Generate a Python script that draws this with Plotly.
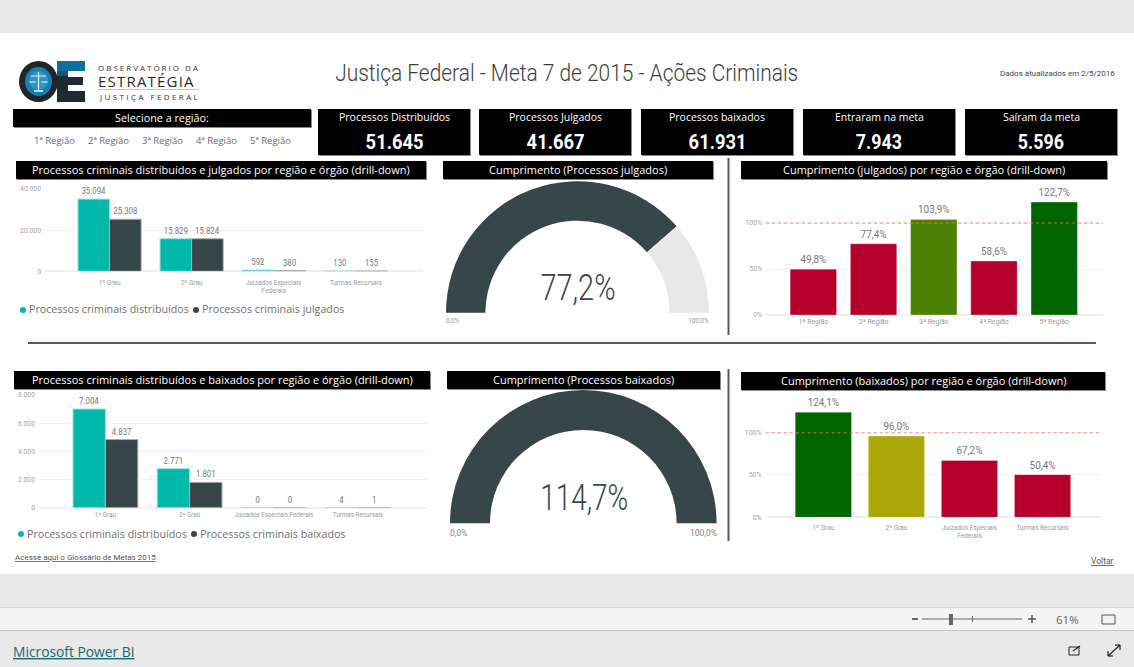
import json
import plotly.graph_objects as go

W, H = 1134, 667

# ---------- data ----------
orgaos = ["1º Grau", "2º Grau", "Juizados Especiais<br>Federais", "Turmas Recursais"]
orgaos_b = ["1º Grau", "2º Grau", "Juizados Especiais Federais", "Turmas Recursais"]
regioes = ["1ª Região", "2ª Região", "3ª Região", "4ª Região", "5ª Região"]
distribuidos_j = [35094, 15829, 592, 130]
julgados = [25308, 15824, 380, 155]
distribuidos_b = [7004, 2771, 0, 4]
baixados = [4837, 1801, 0, 1]
cumpr_julgados = [49.8, 77.4, 103.9, 58.6, 122.7]
cumpr_baixados = [124.1, 96.0, 67.2, 50.4]
cores_julgados = ["#b5002b", "#b5002b", "#4b8204", "#b5002b", "#006400"]
cores_baixados = ["#006400", "#aba808", "#b5002b", "#b5002b"]
gauge_julgados = 77.2
gauge_baixados = 114.7
gauge_max = 100
kpi_nomes = ["Processos Distribuídos", "Processos Julgados", "Processos baixados", "Entraram na meta", "Saíram da meta"]
kpi_valores = ["51.645", "41.667", "61.931", "7.943", "5.596"]
titulo = "Justiça Federal - Meta 7 de 2015 - Ações Criminais"
atualizado = "Dados atualizados em 2/5/2016"

TEAL, DARK = "#01b8aa", "#374649"
DIN = "Roboto, sans-serif"
UI = "Open Sans, sans-serif"

def fx(x): return x / W
def fy(y): return 1 - y / H

shapes, annots = [], []

def rect(x0, y0, x1, y1, color, layer="below"):
    shapes.append(dict(type="rect", xref="paper", yref="paper", x0=fx(x0), x1=fx(x1), y0=fy(y1), y1=fy(y0),
                       fillcolor=color, line=dict(width=0), layer=layer))

def circle(x0, y0, x1, y1, color, layer="below"):
    shapes.append(dict(type="circle", xref="paper", yref="paper", x0=fx(x0), x1=fx(x1), y0=fy(y1), y1=fy(y0),
                       fillcolor=color, line=dict(width=0), layer=layer))

def line(x0, y0, x1, y1, color, w=1, layer="below"):
    shapes.append(dict(type="line", xref="paper", yref="paper", x0=fx(x0), x1=fx(x1), y0=fy(y0), y1=fy(y1),
                       line=dict(color=color, width=w), layer=layer))

def label(x, y, text, size, color="#666666", anchor="center", family=UI, under=False, weight=None):
    font = dict(size=size, color=color, family=family)
    if under: font["lineposition"] = "under"
    if weight: font["weight"] = weight
    annots.append(dict(xref="paper", yref="paper", x=fx(x), y=fy(y), text=text, showarrow=False, xanchor=anchor,
                       yanchor="middle", font=font, borderpad=0, borderwidth=0))

def banner(x0, y0, x1, y1, text, size=11):
    rect(x0 + 1, y0 + 1, x1 + 1, y1 + 1, "#8a8a8a")
    rect(x0, y0, x1, y1, "#000000")
    label((x0 + x1) / 2, (y0 + y1) / 2 - 0.5, text, size, "#ffffff")

# ---------- page bands ----------
rect(0, 33, W, 574, "#ffffff")
rect(0, 608, W, 630, "#f4f4f4")
line(0, 607.5, W, 607.5, "#dcdcdc")
line(0, 630.5, W, 630.5, "#c8c8c8")

# ---------- logo ----------
circle(19, 61, 58, 102, "#20262a")
circle(25, 67, 52, 96, "#1a7fb0")
circle(29, 71, 48, 90, "#2b95c4")
line(38.5, 72, 38.5, 90, "#dff0f7", 1.2)
line(31, 76, 46, 76, "#dff0f7", 1)
line(34, 91, 43, 91, "#dff0f7", 1.6)
for cx in (32.5, 44.5):
    line(cx - 3, 82, cx + 3, 82, "#dff0f7", 1.2)
rect(57, 61, 68, 102, "#1d2a30")
rect(57, 61, 68, 76, "#14577a")
rect(57, 61, 85, 71, "#0f6f9e")
rect(57, 77, 83, 85, "#1d2a30")
rect(57, 91, 85, 102, "#1d2a30")
label(149, 67.5, "OBSERVATÓRIO DA", 8, "#333333")
label(146, 81, "ESTRATÉGIA", 15, "#2b2b2b")
line(98, 89.5, 199, 89.5, "#c4c4c4")
label(149, 96.5, "JUSTIÇA FEDERAL", 8, "#333333")

# ---------- header ----------
label(566.5, 73, titulo, 24, "#3d3d3d", family=DIN, weight=300)
label(1115, 73.5, atualizado, 8, "#444444", anchor="right", family=DIN)

# ---------- selector ----------
banner(13, 109, 311, 127, "Selecione a região:", 10.8)
for cx, r in zip([54, 108, 162, 216, 270], regioes):
    label(cx, 140.5, r, 9.5, "#6b6b6b")

# ---------- KPI cards ----------
for x0, nome, valor in zip([318, 479, 641, 803, 965], kpi_nomes, kpi_valores):
    x1 = x0 + 152
    rect(x0 + 1, 109, x1 + 1, 156, "#8a8a8a")
    rect(x0, 109, x1, 155, "#000000")
    label((x0 + x1) / 2, 117, nome, 10.5, "#ffffff")
    label((x0 + x1) / 2, 142, valor, 20, "#ffffff", family=DIN, weight="bold")

# ---------- section banners ----------
banner(16, 161, 426, 179, "Processos criminais distribuídos e julgados por região e órgão (drill-down)")
banner(443, 161, 713, 179, "Cumprimento (Processos julgados)")
banner(741, 161, 1107, 179, "Cumprimento (julgados) por região e órgão (drill-down)")
banner(14, 371, 430, 389, "Processos criminais distribuídos e baixados por região e órgão (drill-down)")
banner(447, 371, 720, 389, "Cumprimento (Processos baixados)")
banner(741, 372, 1105, 390, "Cumprimento (baixados) por região e órgão (drill-down)")

# ---------- dividers ----------
line(728.5, 158, 728.5, 335, "#4f5d5f", 2)
line(728.5, 369, 728.5, 541, "#4f5d5f", 2)
line(28, 343, 1096, 343, "#4f5d5f", 2)

# ---------- legends ----------
def legend(y, x_a, x_b, a, b, size):
    circle(x_a, y - 3, x_a + 6, y + 3, TEAL)
    label(x_a + 8.5, y - 0.5, a, size, "#6f6f6f", anchor="left")
    circle(x_b, y - 3, x_b + 6, y + 3, DARK)
    label(x_b + 8.5, y - 0.5, b, size, "#6f6f6f", anchor="left")

legend(310, 20, 193, "Processos criminais distribuídos", "Processos criminais julgados", 10.7)
legend(534, 18, 191, "Processos criminais distribuídos", "Processos criminais baixados", 10.7)

# ---------- links ----------
label(15, 557, "Acesse aqui o Glossário de Metas 2015", 8, "#555555", anchor="left", family=DIN, under=True)
label(1114, 561, "Voltar", 8.5, "#555555", anchor="right", family=DIN, under=True)
label(13, 651, "Microsoft Power BI", 13.8, "#17686b", anchor="left", under=True)

# ---------- footer controls ----------
line(912, 619, 918, 619, "#666666", 2)
line(922, 619, 1022, 619, "#666666", 1)
rect(949, 614, 953, 625, "#666666")
line(972.5, 616, 972.5, 622, "#666666", 1)
line(1028, 619, 1036, 619, "#555555", 1.5)
line(1032, 615, 1032, 623, "#555555", 1.5)
label(1067, 619, "61%", 11.5, "#666666")
shapes.append(dict(type="rect", xref="paper", yref="paper", x0=fx(1102), x1=fx(1115), y0=fy(624), y1=fy(615),
                   fillcolor="rgba(0,0,0,0)", line=dict(color="#555555", width=1)))
# share icon
shapes.append(dict(type="rect", xref="paper", yref="paper", x0=fx(1069), x1=fx(1079), y0=fy(655), y1=fy(647),
                   fillcolor="rgba(0,0,0,0)", line=dict(color="#222222", width=1)))
line(1073, 651, 1080, 646, "#222222", 1.2)
# expand icon
line(1108, 656, 1120, 645, "#222222", 1.2)
line(1108, 656, 1108, 651, "#222222", 1.2)
line(1108, 656, 1113, 656, "#222222", 1.2)
line(1120, 645, 1115, 645, "#222222", 1.2)
line(1120, 645, 1120, 650, "#222222", 1.2)

# ---------- figure ----------
fig = go.Figure()
layout_axes = {}

def add_axes(n, px_left, px_right, px_top, px_bottom, xr, yr, dtick, tick_x, tick_y, standoff_x, tickfmt=None, suffix=""):
    xn = f"xaxis{n}" if n > 1 else "xaxis"
    yn = f"yaxis{n}" if n > 1 else "yaxis"
    ya = f"y{n}" if n > 1 else "y"
    xa = f"x{n}" if n > 1 else "x"
    layout_axes[xn] = dict(domain=[fx(px_left), fx(px_right)], range=xr, anchor=ya, showgrid=False, zeroline=False,
                           showline=False, ticks="", type="category", tickangle=0, automargin=False,
                           ticklabelstandoff=standoff_x,
                           tickfont=dict(size=tick_x, color="#9a9a9a", family=DIN))
    layout_axes[yn] = dict(domain=[fy(px_bottom), fy(px_top)], range=yr, anchor=xa, dtick=dtick, showgrid=True,
                           gridcolor="#f2f2f2", gridwidth=1, zeroline=True, zerolinecolor="#f0f0f0", showline=False,
                           ticks="", automargin=False, tickformat=tickfmt, ticksuffix=suffix, ticklabelstandoff=3,
                           tickfont=dict(size=tick_y, color="#a6a6a6", family=DIN))
    return xa, ya

def group_bars(cats, a, b, name_a, name_b, xa, ya, size):
    for vals, col, edge, name in ((a, TEAL, "#9fe3dd", name_a), (b, DARK, "#a9b0b2", name_b)):
        fig.add_trace(go.Bar(x=cats, y=vals, name=name, marker=dict(color=col, line=dict(color=edge, width=1)),
                             xaxis=xa, yaxis=ya, texttemplate="%{y:,.0f}", textposition="outside", cliponaxis=False,
                             textfont=dict(size=size, color="#777777", family=DIN), hoverinfo="skip", showlegend=False))

def pct_bars(cats, vals, cols, xa, ya, size):
    fig.add_trace(go.Bar(x=cats, y=vals, marker=dict(color=cols, line=dict(color="rgba(255,255,255,0.3)", width=1)),
                         xaxis=xa, yaxis=ya, texttemplate="%{y:.1f}%", textposition="outside", cliponaxis=False,
                         textfont=dict(size=size, color="#777777", family=DIN), hoverinfo="skip", showlegend=False))

xa, ya = add_axes(1, 45, 423, 189, 271.3, [-0.787, 3.82], [0, 40000], 20000, 6.5, 6.8, 6, ",d")
group_bars(orgaos, distribuidos_j, julgados, "Processos criminais distribuídos", "Processos criminais julgados", xa, ya, 9.5)

xa, ya = add_axes(2, 39, 427, 395, 507.7, [-0.789, 3.82], [0, 8000], 2000, 6.3, 6.8, 2, ",d")
group_bars(orgaos_b, distribuidos_b, baixados, "Processos criminais distribuídos", "Processos criminais baixados", xa, ya, 9.5)

xa, ya = add_axes(3, 766, 1103, 200, 315, [-0.786, 4.81], [0, 125], 50, 6.8, 6.8, 1, None, "%")
pct_bars(regioes, cumpr_julgados, cores_julgados, xa, ya, 11)

xa4, ya4 = add_axes(4, 765.7, 1101, 411.5, 517.3, [-0.789, 3.80], [0, 125], 50, 6.5, 7, 5, None, "%")
pct_bars(orgaos, cumpr_baixados, cores_baixados, xa4, ya4, 11)

for ya_ in ("y3", "y4"):
    shapes.append(dict(type="line", xref=f"x{ya_[1]} domain", yref=ya_, x0=0, x1=1, y0=100, y1=100,
                       line=dict(color="rgba(250,110,110,0.55)", width=1.5, dash="3px,3px"), layer="above"))

def gauge(value, cx, base, r):
    v = min(value, gauge_max)
    fig.add_trace(go.Pie(values=[v, gauge_max - v, gauge_max], sort=False, direction="clockwise", rotation=270,
                         hole=0.70, textinfo="none", hoverinfo="skip", showlegend=False,
                         marker=dict(colors=[DARK, "#e8e8e8", "rgba(0,0,0,0)"], line=dict(width=0)),
                         domain=dict(x=[fx(cx - r), fx(cx + r)], y=[fy(base + r), fy(base - r)])))

gauge(gauge_julgados, 577.5, 312.7, 131.5)
gauge(gauge_baixados, 583.3, 523.3, 133.3)
txt_j = f"{gauge_julgados:.1f}%".replace(".", ",")
txt_b = f"{gauge_baixados:.1f}%".replace(".", ",")
label(577.5, 287, txt_j, 37, DARK, family=DIN, weight=300)
label(584, 497, txt_b, 37, DARK, family=DIN, weight=300)
label(446, 320.7, "0,0%", 6.5, "#999999", anchor="left", family=DIN)
label(709, 320.7, "100,0%", 6.5, "#999999", anchor="right", family=DIN)
label(450, 533, "0,0%", 8.5, "#888888", anchor="left", family=DIN)
label(716.7, 533, "100,0%", 8.5, "#888888", anchor="right", family=DIN)

fig.update_layout(width=W, height=H, margin=dict(l=0, r=0, t=0, b=0), autosize=False,
                  paper_bgcolor="#e9e9e9", plot_bgcolor="rgba(0,0,0,0)", barmode="group", bargap=0.23, bargroupgap=0,
                  separators=",.", shapes=shapes, annotations=annots, showlegend=False, **layout_axes)

# Letter spacing and horizontal condensing that the installed fonts lack
spacing_map = {"OBSERVATÓRIO DA": "2px", "JUSTIÇA FEDERAL": "2.4px", "ESTRATÉGIA": "1.2px"}
length_map = {titulo: 463, txt_j: 75, txt_b: 88}
length_map.update({v: 58 if len(v) == 6 else 46 for v in kpi_valores})
post = """
document.documentElement.style.overflow='hidden';
document.body.style.margin='0';
var sp=%s, ln=%s;
document.querySelectorAll('.annotation-text').forEach(function(t){
  var k=t.textContent;
  if(sp[k]){t.style.letterSpacing=sp[k];}
  if(ln[k]){t.setAttribute('textLength',ln[k]);t.setAttribute('lengthAdjust','spacingAndGlyphs');}
});
document.querySelectorAll('text.bartext').forEach(function(t){
  var f=parseFloat(t.style.fontSize)<10?0.82:0.9;
  t.setAttribute('textLength',t.getComputedTextLength()*f);
  t.setAttribute('lengthAdjust','spacingAndGlyphs');
});
""" % (json.dumps(spacing_map, ensure_ascii=False), json.dumps(length_map, ensure_ascii=False))
fig.write_html("out.html", config=dict(displayModeBar=False), post_script=post)
